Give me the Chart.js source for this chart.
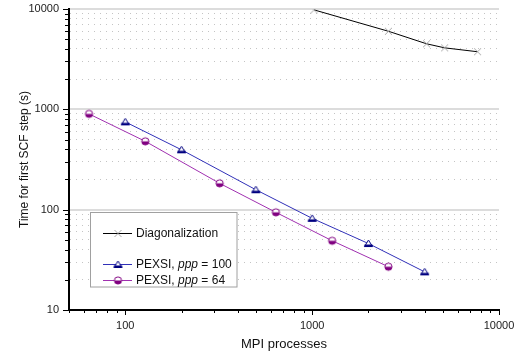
<!DOCTYPE html>
<html>
<head>
<meta charset="utf-8">
<script src="https://cdn.jsdelivr.net/npm/chart.js@4"></script>
<style>
  body { margin: 0; background: #fff; }
  canvas { display: block; }
</style>
</head>
<body>
<canvas id="chart" width="515" height="358"></canvas>
<script>
// values
const diagProcs = [1024, 2560, 4096, 5120, 7680];
const diagTimes = [9800, 6000, 4500, 4100, 3750];
const p100Procs = [100, 200, 500, 1000, 2000, 4000];
const p100Times = [750, 395, 158, 82, 46, 24];
const p64Procs = [64, 128, 320, 640, 1280, 2560];
const p64Times = [900, 480, 183, 94, 49, 27];
const xTickLabels = [100, 1000, 10000];
const yTickLabels = [10, 100, 1000, 10000];

const FONT = '"Liberation Sans", Arial, sans-serif';

function markerCanvas(draw) {
  const c = document.createElement('canvas');
  c.width = 11; c.height = 11;
  draw(c.getContext('2d'));
  return c;
}

const crossMark = markerCanvas(ctx => {
  ctx.strokeStyle = '#a8a8a8';
  ctx.lineWidth = 1;
  ctx.beginPath();
  ctx.moveTo(2, 2); ctx.lineTo(9, 9);
  ctx.moveTo(9, 2); ctx.lineTo(2, 9);
  ctx.stroke();
});

const triMark = markerCanvas(ctx => {
  ctx.beginPath();
  ctx.moveTo(5.5, 2); ctx.lineTo(9.5, 8.5); ctx.lineTo(1.5, 8.5); ctx.closePath();
  ctx.fillStyle = '#fff'; ctx.fill();
  ctx.strokeStyle = '#000080'; ctx.lineWidth = 1; ctx.stroke();
  ctx.fillStyle = '#000080';
  ctx.fillRect(1.5, 6.5, 8, 2.5);
});

const circMark = markerCanvas(ctx => {
  ctx.beginPath();
  ctx.arc(5.5, 5.5, 3.6, 0, Math.PI * 2);
  ctx.fillStyle = '#fff'; ctx.fill();
  ctx.beginPath();
  ctx.arc(5.5, 5.5, 3.6, 0, Math.PI);
  ctx.fillStyle = '#800080'; ctx.fill();
  ctx.beginPath();
  ctx.arc(5.5, 5.5, 3.6, 0, Math.PI * 2);
  ctx.strokeStyle = '#800080'; ctx.lineWidth = 1; ctx.stroke();
});

function pts(xs, ys) {
  return xs.map((x, i) => ({ x: x, y: ys[i] }));
}

// drop the 15/150/1500 ticks chart.js adds on log scales
function intTicks(scale) {
  scale.ticks = scale.ticks.filter(t => {
    const m = t.value / Math.pow(10, Math.floor(Math.log10(t.value) + 1e-9));
    return Math.abs(m - Math.round(m)) < 1e-6;
  });
}

const tickMarks = {
  id: 'tickMarks',
  afterDraw(chart) {
    const ctx = chart.ctx;
    const xs = chart.scales.x, ys = chart.scales.y;
    const area = chart.chartArea;
    ctx.save();
    ctx.strokeStyle = '#000';
    ctx.lineWidth = 1;
    ctx.beginPath();
    xs.ticks.forEach(t => {
      const px = Math.round(xs.getPixelForValue(t.value)) + 0.5;
      ctx.moveTo(px, area.bottom);
      ctx.lineTo(px, area.bottom + (t.major ? 5 : 3));
    });
    ys.ticks.forEach(t => {
      const py = Math.round(ys.getPixelForValue(t.value)) + 0.5;
      ctx.moveTo(area.left, py);
      ctx.lineTo(area.left - (t.major ? 6 : 4), py);
    });
    ctx.stroke();
    ctx.restore();
  }
};

const boxLegend = {
  id: 'boxLegend',
  afterDatasetsDraw(chart) {
    const ctx = chart.ctx;
    ctx.save();
    ctx.fillStyle = '#fff';
    ctx.fillRect(90.5, 212.5, 146.5, 74.5);
    ctx.strokeStyle = '#a0a0a0';
    ctx.lineWidth = 1;
    ctx.strokeRect(90.5, 212.5, 146.5, 74.5);

    const rows = [
      { y: 233, color: '#000', mark: crossMark, parts: [['Diagonalization', false]] },
      { y: 264, color: '#3030b8', mark: triMark, parts: [['PEXSI, ', false], ['ppp', true], [' = 100', false]] },
      { y: 280, color: '#a030b0', mark: circMark, parts: [['PEXSI, ', false], ['ppp', true], [' = 64', false]] }
    ];
    rows.forEach(r => {
      ctx.strokeStyle = r.color;
      ctx.beginPath();
      ctx.moveTo(103, r.y + 0.5);
      ctx.lineTo(132, r.y + 0.5);
      ctx.stroke();
      ctx.drawImage(r.mark, 118 - 5.5, r.y + 0.5 - 5.5);
      let x = 136;
      ctx.fillStyle = '#111';
      ctx.textBaseline = 'middle';
      r.parts.forEach(p => {
        ctx.font = (p[1] ? 'italic ' : '') + '12px ' + FONT;
        ctx.fillText(p[0], x, r.y + 1);
        x += ctx.measureText(p[0]).width;
      });
    });
    ctx.restore();
  }
};

new Chart(document.getElementById('chart'), {
  type: 'line',
  data: {
    datasets: [
      {
        label: 'Diagonalization',
        data: pts(diagProcs, diagTimes),
        borderColor: '#000',
        borderWidth: 1,
        pointStyle: crossMark
      },
      {
        label: 'PEXSI, ppp = 100',
        data: pts(p100Procs, p100Times),
        borderColor: '#3030b8',
        borderWidth: 1,
        pointStyle: triMark
      },
      {
        label: 'PEXSI, ppp = 64',
        data: pts(p64Procs, p64Times),
        borderColor: '#a030b0',
        borderWidth: 1,
        pointStyle: circMark
      }
    ]
  },
  options: {
    responsive: false,
    animation: false,
    devicePixelRatio: 1,
    layout: { padding: { top: 9, right: 16, bottom: 0, left: 0 } },
    plugins: { legend: { display: false }, tooltip: { enabled: false } },
    scales: {
      x: {
        type: 'logarithmic',
        min: 50,
        max: 10000,
        afterBuildTicks: intTicks,
        afterFit: s => { s.height = 48; s.paddingLeft = 0; s.paddingRight = 0; },
        grid: { drawOnChartArea: false, drawTicks: false },
        border: { color: '#000', width: 2 },
        ticks: {
          autoSkip: false,
          maxRotation: 0,
          padding: 9,
          color: '#222',
          font: { family: FONT, size: 11 },
          callback: v => xTickLabels.includes(v) ? String(v) : ''
        },
        title: {
          display: true,
          text: 'MPI processes',
          color: '#111',
          font: { family: FONT, size: 13 },
          padding: { top: 0, bottom: 6 }
        }
      },
      y: {
        type: 'logarithmic',
        min: 10,
        max: 10000,
        afterBuildTicks: intTicks,
        afterFit: s => { s.width = 69; s.paddingTop = 0; s.paddingBottom = 0; },
        grid: {
          drawTicks: false,
          color: c => c.tick && c.tick.major ? '#dcdcdc' : '#c4c4c4',
          lineWidth: c => c.tick && c.tick.major ? 2 : 1
        },
        border: {
          color: '#000',
          width: 2,
          dash: c => c.tick && !c.tick.major ? [1, 5] : []
        },
        ticks: {
          autoSkip: false,
          padding: 10,
          color: '#222',
          font: { family: FONT, size: 11 },
          callback: v => yTickLabels.includes(v) ? String(v) : ''
        },
        title: {
          display: true,
          text: 'Time for first SCF step (s)',
          color: '#111',
          font: { family: FONT, size: 12 },
          padding: { top: 17, bottom: 0 }
        }
      }
    }
  },
  plugins: [tickMarks, boxLegend]
});
</script>
</body>
</html>
